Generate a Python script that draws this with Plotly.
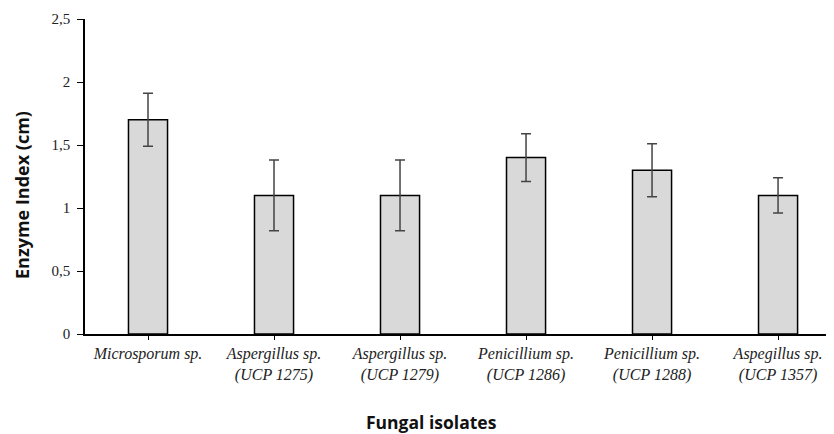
import plotly.graph_objects as go

categories = [
    "<i>Microsporum sp.</i>",
    "<i>Aspergillus sp.</i><br><i>(UCP 1275)</i>",
    "<i>Aspergillus sp.</i><br><i>(UCP 1279)</i>",
    "<i>Penicillium sp.</i><br><i>(UCP 1286)</i>",
    "<i>Penicillium sp.</i><br><i>(UCP 1288)</i>",
    "<i>Aspegillus sp.</i><br><i>(UCP 1357)</i>",
]
values = [1.7, 1.1, 1.1, 1.4, 1.3, 1.1]
errors = [0.21, 0.28, 0.28, 0.19, 0.21, 0.14]
ytick_vals = [0, 0.5, 1, 1.5, 2, 2.5]
ytick_text = ["0", "0,5", "1", "1,5", "2", "2,5"]

# page body has an 8px margin, so the figure is drawn 8px in from the window corner
W, H = 826, 426
L, T, B, R = 77, 11, 100, 0
pw, ph = W - L - R, H - T - B

fig = go.Figure(go.Bar(
    x=categories, y=values, width=0.31,
    marker=dict(color="#d9d9d9", line=dict(color="#000000", width=1.5)),
    error_y=dict(type="data", array=errors, visible=True, color="#444444", thickness=1.5, width=5),
))

fig.update_layout(
    width=W, height=H,
    margin=dict(l=L, r=R, t=T, b=B),
    plot_bgcolor="white", paper_bgcolor="white",
    showlegend=False,
    font=dict(family="Liberation Serif", size=15, color="#222222"),
    annotations=[
        dict(text="<b>Fungal isolates</b>", xref="paper", yref="paper",
             x=(431 - 85) / pw, y=-(422 - 334) / ph,
             showarrow=False, xanchor="center", yanchor="middle",
             font=dict(family="Open Sans", size=17.5, color="#111111")),
        dict(text="<b>Enzyme Index (cm)</b>", xref="paper", yref="paper",
             x=(22 - 85) / pw, y=(334 - 195) / ph,
             showarrow=False, xanchor="center", yanchor="middle", textangle=-90,
             font=dict(family="Open Sans", size=18, color="#111111")),
    ],
)
fig.update_xaxes(
    range=[-0.5, 5.444], showline=True, linecolor="#000000", linewidth=1.5, automargin=False,
    ticks="outside", ticklen=4, tickcolor="#000000",
    tickfont=dict(family="Liberation Serif", size=16, color="#222222"),
)
fig.update_yaxes(
    range=[0, 2.5], showline=True, linecolor="#000000", linewidth=1.5, automargin=False,
    tickvals=ytick_vals, ticktext=ytick_text, showgrid=False, zeroline=False,
    ticks="outside", ticklen=6, tickcolor="#000000", ticklabelstandoff=4,
    tickfont=dict(family="Liberation Serif", size=15, color="#222222"),
)

fig.write_html("out.html")
